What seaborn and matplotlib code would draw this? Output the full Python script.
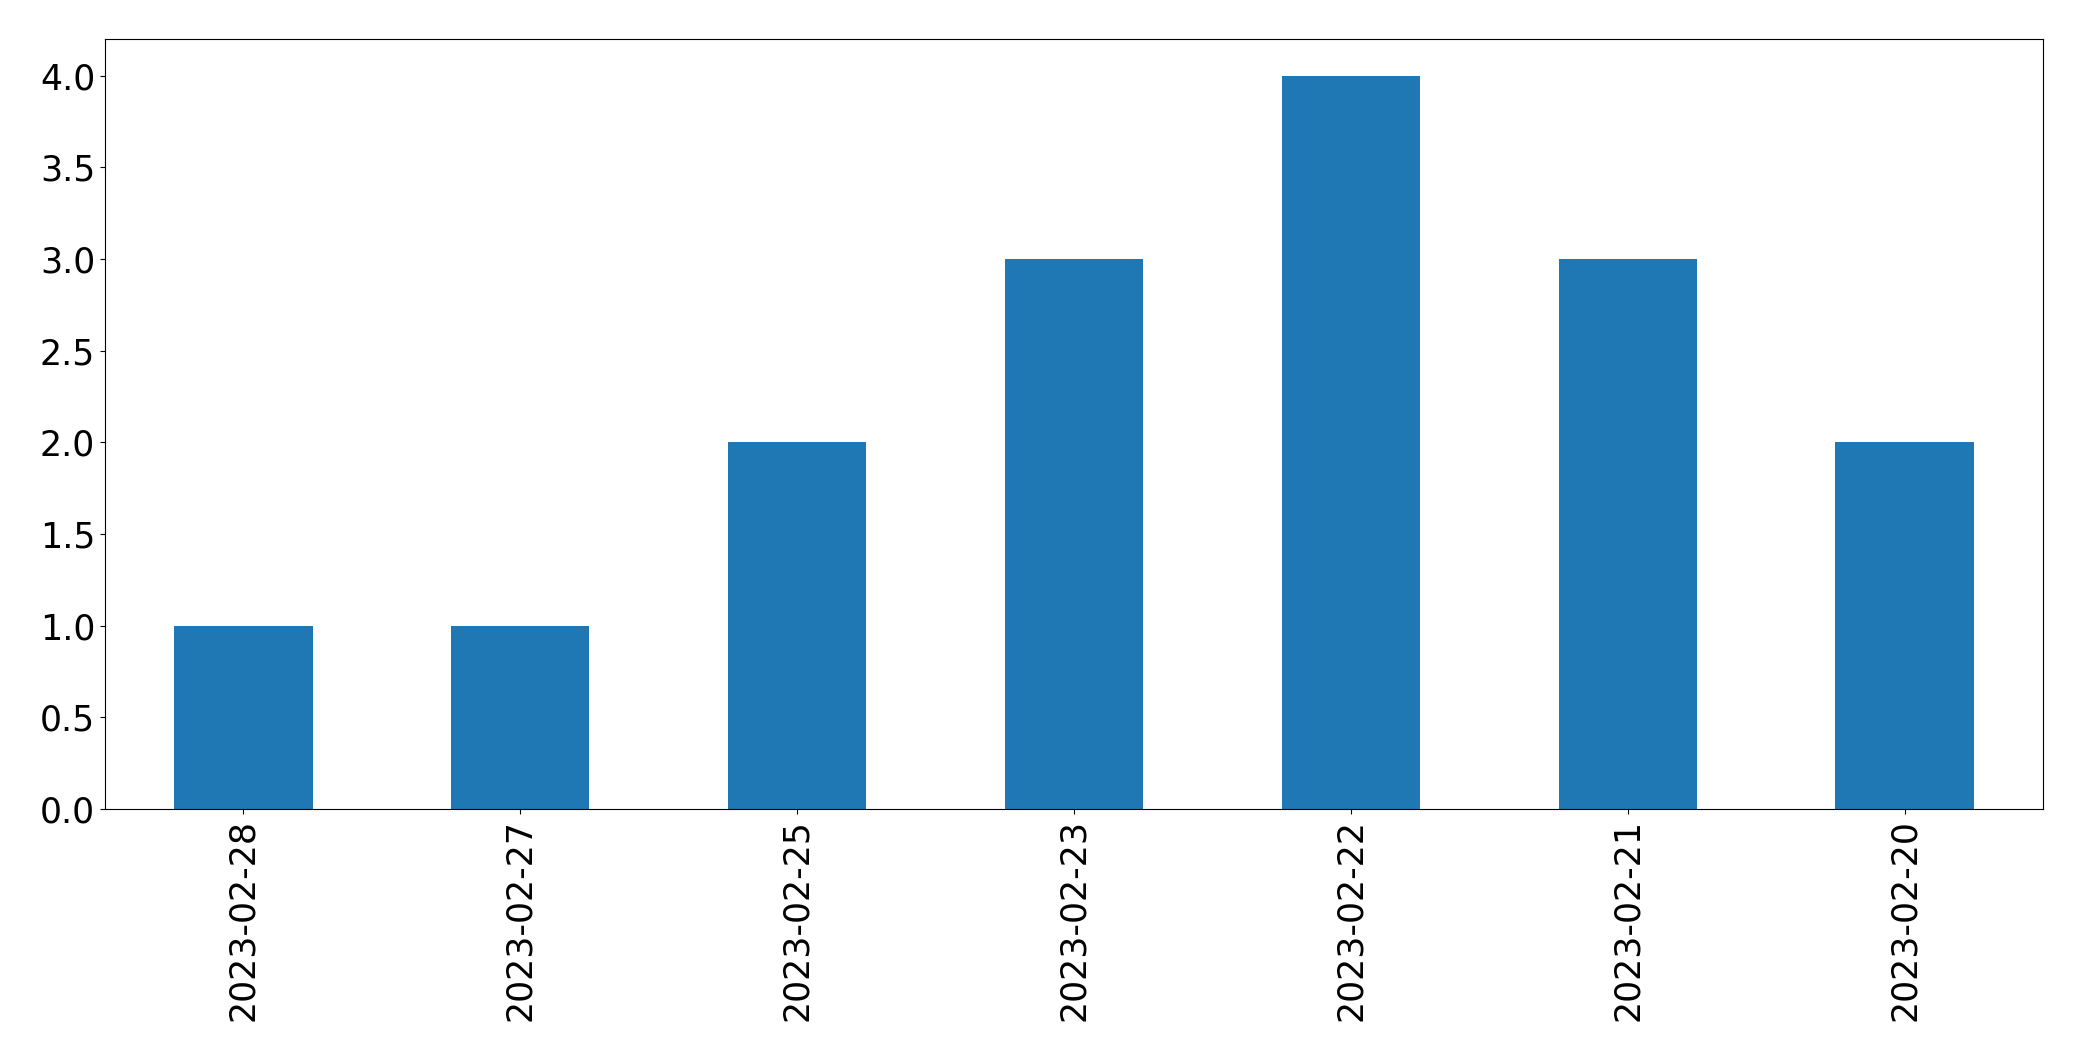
import pandas as pd
import numpy as np
import matplotlib
matplotlib.use("Agg")
import matplotlib.pyplot as plt
import seaborn as sns

dates = ["2023-02-28", "2023-02-27", "2023-02-25", "2023-02-23",
         "2023-02-22", "2023-02-21", "2023-02-20"]
counts = [1, 1, 2, 3, 4, 3, 2]

df = pd.DataFrame({"date": dates, "count": counts})

fig = plt.figure(figsize=(20.82, 10.61), dpi=100)
ax = fig.add_axes([0.0504, 0.2375, 0.9309, 0.7257])

sns.barplot(data=df, x="date", y="count", order=dates, color="#1f77b4",
            saturation=1, width=0.5, ax=ax)

ax.set_xlim(-0.5, len(dates) - 0.5)
ax.set_ylim(0, 4.2)
ax.set_yticks(np.arange(0, 4.01, 0.5))
ax.set_xlabel("")
ax.set_ylabel("")
ax.tick_params(axis="both", labelsize=25)
plt.setp(ax.get_xticklabels(), rotation=90)

fig.savefig("out.png", dpi=100)
